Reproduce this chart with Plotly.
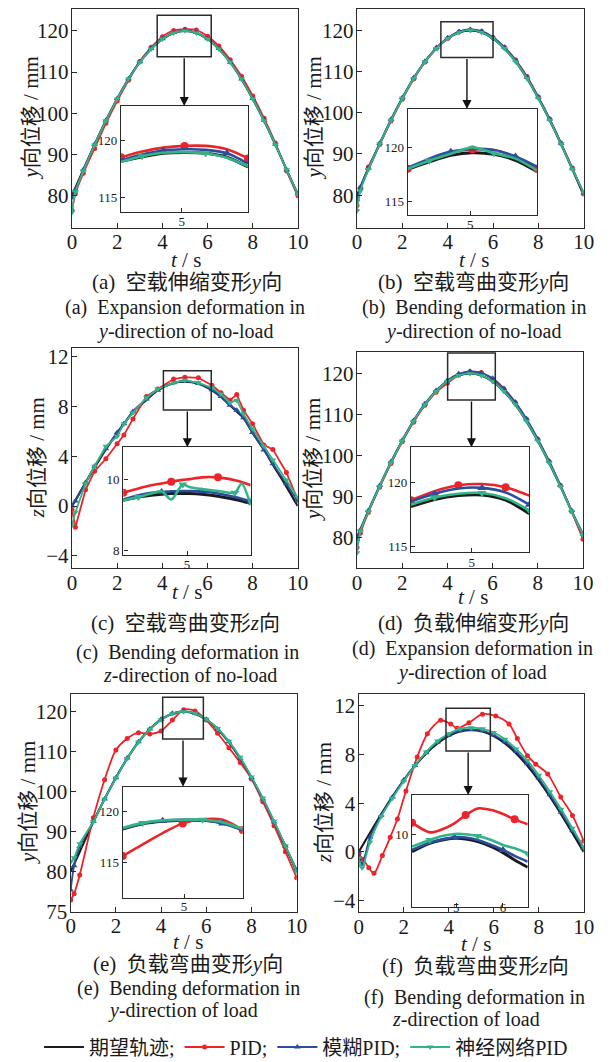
import plotly.graph_objects as go

W, H = 612, 1062
FONT = "Liberation Serif, Noto Sans CJK SC, serif"
C_BLACK, C_RED, C_BLUE, C_GREEN = "#1b1b1b", "#ec2328", "#2c4d9e", "#31b487"
NAMES = ["期望轨迹;", "PID;", "模糊PID;", "神经网络PID"]

# ---------------- data: main plots ----------------
t_std = [0, 0.15, 0.5, 1, 1.5, 2, 2.5, 3, 3.5, 4, 4.5, 5, 5.5, 6, 6.5, 7, 7.5, 8, 8.5, 9, 9.5, 10]
y_ref = [80, 81.9, 86.3, 92.4, 98.2, 103.5, 108.3, 112.4, 115.6, 118.0, 119.5, 120.0,
         119.5, 118.0, 115.6, 112.4, 108.3, 103.5, 98.2, 92.4, 86.3, 80.0]

# (a) expansion, y, no-load
a_red = [76.5, 80.5, 85.5, 91.5, 97.6, 103.0, 108.0, 112.6, 116.0, 118.6, 120.1, 120.4,
         120.2, 118.7, 116.3, 113.0, 109.0, 104.2, 98.8, 92.8, 86.0, 80.0]
a_blue = [79.5, 81.5, 86.3, 92.5, 98.3, 103.6, 108.4, 112.5, 115.7, 118.1, 119.6, 120.2,
          119.6, 118.1, 115.7, 112.4, 108.3, 103.6, 98.3, 92.5, 86.3, 80.5]
a_green = [76.0, 81.0, 86.0, 92.3, 98.2, 103.5, 108.3, 112.4, 115.6, 118.0, 119.5, 120.0,
           119.5, 118.0, 115.6, 112.4, 108.3, 103.5, 98.2, 92.4, 86.3, 80.3]

# (b) bending, y, no-load
b_red = [77.5, 81.5, 86.8, 92.3, 98.0, 103.3, 108.2, 112.3, 115.6, 118.0, 119.6, 120.1,
         119.7, 118.2, 115.9, 112.8, 108.8, 103.8, 98.5, 92.6, 86.6, 80.3]
b_blue = [79.0, 82.0, 86.5, 92.6, 98.4, 103.7, 108.5, 112.5, 115.8, 118.2, 119.7, 120.2,
          119.8, 118.3, 115.9, 112.7, 108.6, 103.8, 98.5, 92.6, 86.4, 80.5]
b_green = [76.2, 81.0, 86.2, 92.4, 98.2, 103.5, 108.3, 112.4, 115.6, 118.0, 119.5, 120.1,
           119.5, 118.0, 115.6, 112.4, 108.3, 103.5, 98.2, 92.4, 86.3, 80.6]

# (c) bending, z, no-load
t_c = [0, 0.15, 0.6, 1.0, 1.5, 2.0, 2.3, 2.7, 3.3, 3.8, 4.5, 5.0, 5.6, 6.2, 6.6, 7.0,
       7.3, 7.6, 8.0, 8.5, 8.9, 9.5, 10]
c_black = [0, 0.47, 1.87, 3.09, 4.54, 5.88, 6.59, 7.55, 8.53, 9.29, 9.88, 10.0, 9.82,
           9.29, 8.76, 8.09, 7.59, 7.07, 5.88, 4.54, 3.33, 1.56, 0]
c_red = [-0.3, -1.7, 1.3, 2.8, 3.8, 5.0, 5.7, 7.0, 8.8, 9.4, 10.2, 10.35, 10.3, 9.7,
         9.1, 8.5, 8.95, 7.7, 6.6, 4.9, 4.55, 2.7, 0.5]
c_blue = [0, 0.4, 1.9, 3.2, 4.6, 5.9, 6.6, 7.6, 8.6, 9.3, 9.9, 10.05, 9.85, 9.35, 8.8,
          8.1, 7.7, 7.1, 5.9, 4.5, 3.4, 1.8, 0.4]
c_green = [-1.5, -0.5, 1.8, 3.2, 4.8, 5.6, 6.6, 7.5, 8.7, 9.4, 9.9, 10.1, 9.9, 9.5, 9.0,
           8.3, 8.5, 7.4, 6.2, 4.8, 3.7, 2.1, 0.7]

# (d) expansion, y, load
d_red = [77.5, 81.0, 86.0, 92.2, 98.0, 103.3, 108.1, 112.2, 115.4, 117.6, 119.6, 120.4,
         120.2, 118.6, 116.2, 112.9, 108.8, 103.9, 98.5, 92.6, 86.3, 79.5]
d_blue = [79.5, 81.8, 86.5, 92.6, 98.4, 103.7, 108.5, 112.6, 115.8, 118.3, 119.9, 120.5,
          120.1, 118.8, 116.3, 113.0, 108.9, 104.0, 98.6, 92.7, 86.5, 80.8]
d_green = [76.2, 81.5, 86.2, 92.4, 98.2, 103.5, 108.3, 112.4, 115.6, 118.0, 119.5, 120.0,
           119.5, 118.0, 115.6, 112.4, 108.3, 103.5, 98.2, 92.4, 86.3, 80.5]

# (e) bending, y, load
t_e = [0, 0.15, 0.4, 1.0, 1.5, 2.0, 2.5, 3.0, 3.5, 4.0, 4.5, 5.0, 5.5, 6.0, 6.5, 7.0,
       7.5, 8.0, 8.5, 9.0, 9.5, 10]
e_black = [80, 81.9, 85.0, 92.4, 98.2, 103.5, 108.3, 112.4, 115.6, 118.0, 119.5, 120.0,
           119.5, 118.0, 115.6, 112.4, 108.3, 103.5, 98.2, 92.4, 86.3, 80.0]
e_red = [72.9, 74.5, 79.2, 93.5, 103.0, 110.4, 113.3, 114.75, 114.4, 115.2, 117.9, 120.5,
         120.2, 117.9, 114.6, 111.0, 107.3, 103.2, 97.5, 91.5, 85.0, 78.5]
e_blue = [75.4, 81.5, 86.3, 92.6, 98.2, 103.5, 108.4, 112.5, 115.7, 118.1, 119.6, 120.1,
          119.6, 118.1, 115.7, 112.5, 108.3, 103.5, 98.2, 92.4, 86.4, 80.5]
e_green = [82.5, 83.5, 87.0, 92.5, 98.2, 103.4, 108.3, 112.4, 115.6, 118.0, 119.5, 120.0,
           119.6, 118.1, 115.8, 112.6, 108.6, 103.7, 98.4, 92.6, 86.5, 80.0]

# (f) bending, z, load
f_black = [0, 0.47, 1.56, 3.09, 4.54, 5.88, 7.07, 8.09, 8.91, 9.51, 9.88, 10.0, 9.88,
           9.51, 8.91, 8.09, 7.07, 5.88, 4.54, 3.09, 1.56, 0]
t_f_red = [0, 0.2, 0.45, 0.68, 1.05, 1.4, 1.72, 2.1, 2.6, 3.05, 3.64, 4.09, 4.38, 4.9,
           5.5, 6.09, 6.68, 7.05, 7.5, 7.87, 8.4, 8.98, 9.5, 10]
f_red = [-0.2, -0.6, -1.3, -1.75, -0.3, 1.2, 2.7, 5.0, 7.8, 9.7, 10.8, 10.5, 10.15, 10.6,
         11.3, 11.15, 10.5, 9.3, 7.9, 7.2, 6.4, 4.5, 3.0, 0.9]
f_blue = [0, -1.0, 1.2, 3.0, 4.5, 5.9, 7.1, 8.15, 9.0, 9.6, 9.95, 10.05, 9.95, 9.6, 9.05,
          8.25, 7.25, 6.05, 4.7, 3.25, 1.75, 0.3]
f_green = [-0.5, -1.3, 0.8, 2.9, 4.4, 5.8, 7.1, 8.2, 9.1, 9.7, 10.1, 10.2, 10.1, 9.8, 9.25,
           8.45, 7.5, 6.3, 4.95, 3.5, 1.95, 0.4]

# ---------------- data: insets ----------------
ti_a = [3.85, 4.25, 4.65, 5.05, 5.45, 5.85, 6.25]
ia_black = [118.15, 118.55, 118.85, 118.92, 118.85, 118.5, 117.65]
ia_red = [118.5, 119.0, 119.35, 119.5, 119.5, 119.2, 118.4]
ia_blue = [118.25, 118.75, 119.1, 119.2, 119.15, 118.85, 117.95]
ia_green = [118.1, 118.6, 118.9, 118.95, 118.85, 118.45, 117.7]

ti_b = [3.84, 4.24, 4.64, 5.04, 5.44, 5.84, 6.24]
ib_black = [117.95, 118.65, 119.25, 119.5, 119.35, 118.8, 117.75]
ib_red = [118.0, 118.85, 119.55, 119.8, 119.75, 119.1, 118.0]
ib_blue = [118.1, 118.95, 119.6, 119.85, 119.75, 119.15, 118.2]
ib_green = [118.0, 118.75, 119.4, 120.0, 119.45, 118.95, 117.85]

ti_c = [3.95, 4.2, 4.41, 4.58, 4.74, 4.93, 5.04, 5.24, 5.51, 5.79, 5.9, 6.05]
ic_black = [9.41, 9.5, 9.55, 9.58, 9.6, 9.6, 9.6, 9.58, 9.52, 9.43, 9.39, 9.32]
ic_red = [9.62, 9.74, 9.83, 9.88, 9.93, 9.98, 10.0, 10.05, 10.05, 9.97, 9.92, 9.83]
ic_blue = [9.43, 9.55, 9.62, 9.64, 9.66, 9.67, 9.67, 9.66, 9.6, 9.5, 9.45, 9.37]
ic_green = [9.41, 9.5, 9.6, 9.66, 9.43, 9.85, 9.78, 9.72, 9.67, 9.62, 9.88, 9.27]

ti_d = [3.87, 4.31, 4.75, 5.19, 5.63, 6.07]
id_black = [118.1, 118.65, 118.95, 119.0, 118.6, 117.55]
id_red = [118.6, 119.3, 119.75, 119.85, 119.6, 118.95]
id_blue = [118.5, 119.1, 119.5, 119.55, 119.2, 118.25]
id_green = [118.25, 118.8, 119.1, 119.15, 118.75, 117.8]

ti_e = [4.08, 4.38, 4.68, 4.98, 5.28, 5.58, 5.88]
ie_black = [118.3, 118.8, 119.05, 119.15, 119.15, 118.9, 118.25]
ie_red = [115.65, 116.8, 117.9, 118.85, 119.25, 119.2, 118.2]
ie_blue = [118.35, 118.85, 119.1, 119.2, 119.15, 118.85, 118.2]
ie_green = [118.4, 118.9, 119.15, 119.2, 119.2, 118.95, 118.3]

ti_f = [4.05, 4.43, 4.7, 4.96, 5.2, 5.46, 5.75, 6.0, 6.25, 6.53]
if_black = [9.15, 9.55, 9.71, 9.79, 9.76, 9.63, 9.39, 9.1, 8.74, 8.39]
if_red = [10.55, 10.08, 10.23, 10.52, 10.92, 11.24, 11.16, 10.97, 10.71, 10.47]
if_blue = [9.23, 9.58, 9.74, 9.84, 9.83, 9.71, 9.47, 9.23, 8.94, 8.66]
if_green = [9.39, 9.71, 9.9, 10.0, 9.99, 9.9, 9.71, 9.47, 9.31, 9.06]

# zoom boxes in main-axis data coords: x0, x1, y0, y1
box_a = [3.77, 6.16, 113.7, 123.8]
box_b = [3.7, 6.0, 113.4, 122.1]
box_c = [4.05, 6.17, 7.72, 10.87]
box_d = [4.01, 6.12, 113.5, 125.0]
box_e = [4.07, 5.87, 113.2, 123.6]
box_f = [3.88, 5.85, 8.28, 11.8]

# captions
cap_cn = ["(a)  空载伸缩变形<i>y</i>向", "(b)  空载弯曲变形<i>y</i>向", "(c)  空载弯曲变形<i>z</i>向",
          "(d)  负载伸缩变形<i>y</i>向", "(e)  负载弯曲变形<i>y</i>向", "(f)  负载弯曲变形<i>z</i>向"]
cap_en1 = ["(a)  Expansion deformation in", "(b)  Bending deformation in",
           "(c)  Bending deformation in", "(d)  Expansion deformation in",
           "(e)  Bending deformation in", "(f)  Bending deformation in"]
cap_en2 = ["<i>y</i>-direction of no-load", "<i>y</i>-direction of no-load",
           "<i>z</i>-direction of no-load", "<i>y</i>-direction of load",
           "<i>y</i>-direction of load", "<i>z</i>-direction of load"]
ytitles = ["<i>y</i>向位移 / mm", "<i>y</i>向位移 / mm", "<i>z</i>向位移 / mm",
           "<i>y</i>向位移 / mm", "<i>y</i>向位移 / mm", "<i>z</i>向位移 / mm"]

# ---------------- layout spec (pixels) ----------------
panels = [
    dict(t=t_std, tr=t_std, s=[y_ref, a_red, a_blue, a_green], lin=[False] * 4,
         px=(72, 298, 9, 228), yr=(72.2, 125.3), ytv=[80, 90, 100, 110, 120], ytt=None,
         ti=ti_a, si=[ia_black, ia_red, ia_blue, ia_green],
         ipx=(121, 248, 106, 212), ixr=(3.85, 6.25), iyr=(113.7, 123.0), iytv=[115, 120], ixtv=[5],
         iso=-3, box=box_a, ytx=30, xt=(186, 260), cn=(187, 282), e1=(185, 308), e2=(185, 331)),
    dict(t=t_std, tr=t_std, s=[y_ref, b_red, b_blue, b_green], lin=[False] * 4,
         px=(357, 583.7, 9.3, 227.7), yr=(72.1, 125.1), ytv=[80, 90, 100, 110, 120], ytt=None,
         ti=ti_b, si=[ib_black, ib_red, ib_blue, ib_green],
         ipx=(407.7, 537, 109, 215), ixr=(3.84, 6.24), iyr=(113.7, 123.57), iytv=[115, 120], ixtv=[5],
         iso=-3, box=box_b, ytx=313, xt=(473.5, 260), cn=(473.5, 282), e1=(473.5, 308), e2=(473, 331)),
    dict(t=t_c, tr=t_c, s=[c_black, c_red, c_blue, c_green], lin=[False, True, False, True],
         px=(72, 297.7, 348.3, 568.3), yr=(-5.0, 12.67), ytv=[-4, 0, 4, 8, 12], ytt=None,
         ti=ti_c, si=[ic_black, ic_red, ic_blue, ic_green],
         ipx=(123.3, 250.7, 447.3, 555), ixr=(3.95, 6.05), iyr=(7.88, 10.89), iytv=[8, 10], ixtv=[5],
         iso=-3, box=box_c, ytx=37, xt=(186.7, 592), cn=(186, 623), e1=(187, 652), e2=(190, 675)),
    dict(t=t_std, tr=t_std, s=[y_ref, d_red, d_blue, d_green], lin=[False] * 4,
         px=(357, 583, 351.7, 568.3), yr=(72.4, 125.3), ytv=[80, 90, 100, 110, 120], ytt=None,
         ti=ti_d, si=[id_black, id_red, id_blue, id_green],
         ipx=(411, 529.3, 447.3, 551.7), ixr=(3.87, 6.07), iyr=(114.6, 122.7), iytv=[115, 120], ixtv=[5],
         iso=-2, box=box_d, ytx=313, xt=(472.7, 597), cn=(473.5, 623), e1=(472.7, 648), e2=(472, 672)),
    dict(t=t_e, tr=t_e, s=[e_black, e_red, e_blue, e_green], lin=[False] * 4,
         px=(70.7, 296.7, 694.3, 911.7), yr=(70.0, 124.35), ytv=[70, 80, 90, 100, 110, 120],
         ytt=["75", "80", "90", "100", "110", "120"],
         ti=ti_e, si=[ie_black, ie_red, ie_blue, ie_green],
         ipx=(122.7, 242.7, 786.7, 898.3), ixr=(4.08, 5.88), iyr=(111.5, 122.45), iytv=[115, 120], ixtv=[5],
         iso=-4, box=box_e, ytx=28, xt=(187.5, 942), cn=(187.5, 964), e1=(188, 988), e2=(183, 1010)),
    dict(t=t_std, tr=t_f_red, s=[f_black, f_red, f_blue, f_green], lin=[False] * 4,
         px=(358.7, 583.7, 694, 912.3), yr=(-4.95, 12.96), ytv=[-4, 0, 4, 8, 12], ytt=None,
         ti=ti_f, si=[if_black, if_red, if_blue, if_green],
         ipx=(412, 527.7, 795, 906.7), ixr=(4.05, 6.53), iyr=(6.48, 11.89), iytv=[10], ixtv=[5, 6],
         iso=-12, box=box_f, ytx=324, xt=(476, 944), cn=(475, 966), e1=(474, 997), e2=(466, 1019)),
]

COLORS = [C_BLACK, C_RED, C_BLUE, C_GREEN]
SYMS = [None, "circle", "triangle-up", "triangle-down"]
AXC = "#2a2a2a"

fig = go.Figure()
layout = dict(width=W, height=H, margin=dict(l=0, r=0, t=0, b=0, autoexpand=False),
              paper_bgcolor="white", plot_bgcolor="white",
              font=dict(family=FONT, color="#1a1a1a", size=20))
annotations, shapes = [], []


def xd(l, r):
    return [l / W, r / W]


def yd(t, b):
    return [1 - b / H, 1 - t / H]


for i, p in enumerate(panels):
    n, m = i + 1, i + 7
    xa, ya = ("x" if n == 1 else f"x{n}"), ("y" if n == 1 else f"y{n}")
    xi, yi = f"x{m}", f"y{m}"
    l, r, t, b = p["px"]
    # main axes
    layout["xaxis" if n == 1 else f"xaxis{n}"] = dict(
        domain=xd(l, r), anchor=ya, range=[0, 10], tickvals=[0, 2, 4, 6, 8, 10],
        ticks="inside", ticklen=5, tickwidth=1.2, tickcolor=AXC, showline=True, mirror=True,
        linecolor=AXC, linewidth=1.4, showgrid=False, zeroline=False, ticklabelstandoff=-5,
        tickfont=dict(size=21, family=FONT))
    yax = dict(domain=yd(t, b), anchor=xa, range=list(p["yr"]), tickvals=p["ytv"],
               ticks="inside", ticklen=5, tickwidth=1.2, tickcolor=AXC, showline=True, mirror=True,
               linecolor=AXC, linewidth=1.4, showgrid=False, zeroline=False, ticklabelstandoff=-2,
               tickfont=dict(size=21, family=FONT))
    if p["ytt"]:
        yax["ticktext"] = p["ytt"]
    layout["yaxis" if n == 1 else f"yaxis{n}"] = yax
    # inset axes
    il, ir, it, ib = p["ipx"]
    layout[f"xaxis{m}"] = dict(domain=xd(il, ir), anchor=yi, range=list(p["ixr"]), tickvals=p["ixtv"],
                               ticks="inside", ticklen=4, tickwidth=1.2, tickcolor=AXC,
                               ticklabelstandoff=p["iso"],
                               showline=True, mirror=True, linecolor=AXC, linewidth=1.4,
                               showgrid=False, zeroline=False, tickfont=dict(size=13, family=FONT))
    layout[f"yaxis{m}"] = dict(domain=yd(it, ib), anchor=xi, range=list(p["iyr"]), tickvals=p["iytv"],
                               ticks="inside", ticklen=4, tickwidth=1.2, tickcolor=AXC,
                               showline=True, mirror=True, linecolor=AXC, linewidth=1.4,
                               showgrid=False, zeroline=False, tickfont=dict(size=13, family=FONT))
    # main traces
    for k in range(4):
        tx = p["tr"] if k == 1 else p["t"]
        shape = "linear" if p["lin"][k] else "spline"
        tr = dict(x=tx, y=p["s"][k], xaxis=xa, yaxis=ya, name=NAMES[k],
                  showlegend=(i == 0), legendrank=k + 1,
                  line=dict(color=COLORS[k], width=1.8, shape=shape, smoothing=0.8))
        if k == 0:
            tr["mode"] = "lines"
            tr["line"]["width"] = 2.2
        else:
            tr["mode"] = "lines+markers"
            tr["marker"] = dict(symbol=SYMS[k], size=5 if k == 1 else 6, color=COLORS[k])
        fig.add_trace(go.Scatter(**tr))
    # inset traces
    for k in range(4):
        tr = dict(x=p["ti"], y=p["si"][k], xaxis=xi, yaxis=yi, showlegend=False,
                  line=dict(color=COLORS[k], width=2.6, shape="spline", smoothing=0.8))
        if k == 0:
            tr["mode"] = "lines"
            tr["line"]["width"] = 3
        else:
            tr["mode"] = "lines+markers"
            tr["marker"] = dict(symbol=SYMS[k], size=8, color=COLORS[k], maxdisplayed=3)
        fig.add_trace(go.Scatter(**tr))
    # zoom box
    bx0, bx1, by0, by1 = p["box"]
    shapes.append(dict(type="rect", xref=xa, yref=ya, x0=bx0, x1=bx1, y0=by0, y1=by1,
                       line=dict(color=AXC, width=1.5), layer="above"))
    # arrow from box bottom to inset top
    y0r, y1r = p["yr"]
    box_bottom_px = t + (y1r - by0) / (y1r - y0r) * (b - t)
    annotations.append(dict(x=(bx0 + bx1) / 2, xref=xa, y=1 - it / H, yref="paper",
                            ax=0, ay=-(it - box_bottom_px), showarrow=True, arrowhead=2,
                            arrowsize=1.3, arrowwidth=1.4, arrowcolor="#111", text=""))
    # texts
    cy = (t + b) / 2
    annotations.append(dict(x=p["ytx"] / W, y=1 - cy / H, xref="paper", yref="paper",
                            xanchor="center", yanchor="middle",
                            text=ytitles[i], textangle=-90, showarrow=False,
                            font=dict(size=21, family=FONT)))
    for key, txt in (("xt", "<i>t</i> / s"), ("cn", cap_cn[i]), ("e1", cap_en1[i]), ("e2", cap_en2[i])):
        cx, cyy = p[key]
        annotations.append(dict(x=cx / W, y=1 - cyy / H, xref="paper", yref="paper", text=txt,
                                xanchor="center", yanchor="middle", showarrow=False,
                                font=dict(size=21 if key in ("xt", "cn") else 20, family=FONT)))

layout["annotations"] = annotations
layout["shapes"] = shapes
layout["legend"] = dict(orientation="h", x=0.5, xanchor="center", y=1 - 1047 / H, yanchor="middle",
                        font=dict(size=20, family=FONT), bgcolor="rgba(0,0,0,0)",
                        itemwidth=40, tracegroupgap=0)
fig.update_layout(**layout)
fig.write_html("out.html", config={"displayModeBar": False},
               post_script="document.body.style.margin='0';document.body.style.padding='0';")
